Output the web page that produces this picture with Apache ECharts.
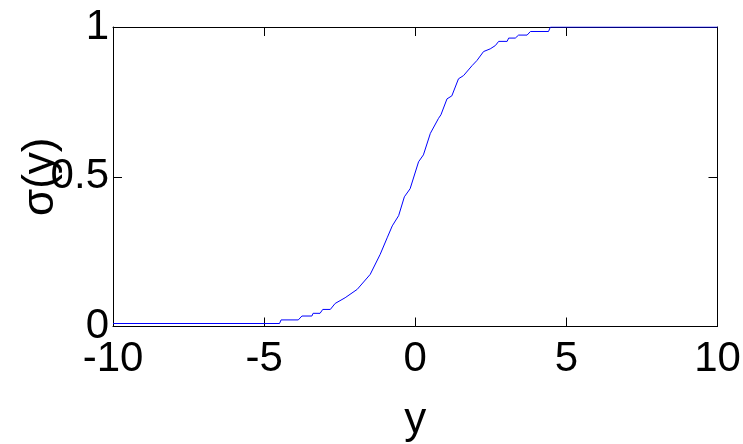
<!DOCTYPE html>
<html>
<head>
<meta charset="utf-8">
<script src="https://cdn.jsdelivr.net/npm/echarts@6/dist/echarts.min.js"></script>
<style>
  html, body { margin: 0; padding: 0; background: #fff; }
  #chart { width: 743px; height: 444px; }
</style>
</head>
<body>
<div id="chart"></div>
<script>
// values
const xValues = [-10, -4.49, -4.44, -3.87, -3.75, -3.42, -3.38, -3.15, -3.06, -2.81, -2.65, -2.32, -1.92, -1.49, -1.16, -0.93, -0.76, -0.55, -0.36, -0.17, 0.11, 0.27, 0.50, 0.77, 0.85, 1.05, 1.21, 1.43, 1.60, 1.88, 2.04, 2.26, 2.48, 2.65, 2.76, 3.04, 3.09, 3.31, 3.42, 3.70, 3.81, 4.41, 4.47, 10]
const sigmaValues = [0.01, 0.01, 0.022, 0.022, 0.035, 0.035, 0.044, 0.044, 0.057, 0.057, 0.077, 0.096, 0.124, 0.174, 0.241, 0.296, 0.336, 0.37, 0.433, 0.46, 0.55, 0.573, 0.645, 0.695, 0.707, 0.76, 0.77, 0.827, 0.838, 0.871, 0.888, 0.918, 0.927, 0.938, 0.952, 0.952, 0.963, 0.963, 0.973, 0.973, 0.985, 0.985, 1.0, 1.0]
const xTicks = [-10, -5, 0, 5, 10]
const yTicks = [0, 0.5, 1]

const FONT = "'Liberation Sans', Arial, sans-serif"

const lineData = xValues.map((x, i) => [x, sigmaValues[i]])

const axisLine = { show: true, onZero: false, lineStyle: { color: '#000', width: 1 } }
const axisTick = { show: true, inside: true, length: 9, lineStyle: { color: '#000', width: 1 } }

const chart = echarts.init(document.getElementById('chart'))
chart.setOption({
  animation: false,
  backgroundColor: '#fff',
  grid: { left: 113, top: 27, right: 25.5, bottom: 117.5, containLabel: false, outerBoundsMode: 'none' },
  xAxis: [
    {
      type: 'value',
      min: xTicks[0],
      max: xTicks[xTicks.length - 1],
      interval: 5,
      name: 'y',
      nameLocation: 'middle',
      nameGap: 72,
      nameMoveOverlap: false,
      nameTextStyle: { fontFamily: FONT, fontSize: 44, color: '#000' },
      axisLine: axisLine,
      axisTick: axisTick,
      splitLine: { show: false },
      axisLabel: { fontFamily: FONT, fontSize: 42, color: '#000', margin: 12 }
    },
    {
      type: 'value',
      position: 'top',
      min: xTicks[0],
      max: xTicks[xTicks.length - 1],
      interval: 5,
      axisLine: axisLine,
      axisTick: axisTick,
      splitLine: { show: false },
      axisLabel: { show: false }
    }
  ],
  yAxis: [
    {
      type: 'value',
      min: yTicks[0],
      max: yTicks[yTicks.length - 1],
      interval: 0.5,
      name: 'σ(y)',
      nameLocation: 'middle',
      nameGap: 50,
      nameMoveOverlap: false,
      nameTextStyle: { fontFamily: FONT, fontSize: 44, color: '#000' },
      axisLine: axisLine,
      axisTick: axisTick,
      splitLine: { show: false },
      axisLabel: { fontFamily: FONT, fontSize: 42, color: '#000', margin: 4 }
    },
    {
      type: 'value',
      position: 'right',
      min: yTicks[0],
      max: yTicks[yTicks.length - 1],
      interval: 0.5,
      axisLine: axisLine,
      axisTick: axisTick,
      splitLine: { show: false },
      axisLabel: { show: false }
    }
  ],
  series: [
    {
      type: 'line',
      data: lineData,
      showSymbol: false,
      lineStyle: { color: '#0000ff', width: 1 },
      itemStyle: { color: '#0000ff' }
    }
  ]
})
</script>
</body>
</html>
